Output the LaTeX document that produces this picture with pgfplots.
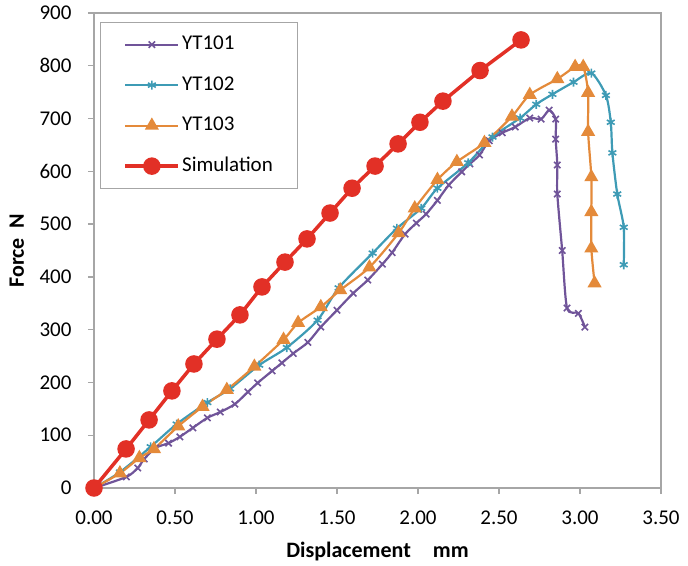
\documentclass[border=0pt]{standalone}
\usepackage{fontspec}
\setmainfont{Carlito}
\usepackage{pgfplots}
\pgfplotsset{compat=1.18}
\definecolor{cPurple}{HTML}{705499}
\definecolor{cCyan}{HTML}{3E9BB5}
\definecolor{cOrange}{HTML}{E48A3A}
\definecolor{cRed}{HTML}{E23026}
\definecolor{cAxis}{HTML}{A6A6A6}
\begin{document}
\begin{tikzpicture}
\begin{axis}[
  scale only axis, width=567pt, height=475pt,
  xmin=0, xmax=3.5, ymin=0, ymax=900,
  xtick={0,0.5,1,1.5,2,2.5,3,3.5},
  ytick={0,100,200,300,400,500,600,700,800,900},
  /pgf/number format/assume math mode=true,
  x tick label style={/pgf/number format/.cd, fixed, fixed zerofill, precision=2, /tikz/.cd, yshift=-13pt},
  y tick label style={/pgf/number format/.cd, fixed, precision=0, /tikz/.cd, xshift=-13pt},
  tick align=outside, xtick pos=left, ytick pos=left,
  major tick length=6pt,
  tick style={cAxis, line width=1.3pt},
  axis line style={cAxis, line width=1.5pt},
  ticklabel style={font=\fontsize{21}{21}\selectfont, text=black},
  xlabel={Displacement\quad mm}, ylabel={Force\ \ N},
  label style={font=\bfseries\fontsize{22}{22}\selectfont},
  xlabel style={at={(axis description cs:0.5,-0.133)}, anchor=center},
  ylabel style={at={(axis description cs:-0.136,0.5)}, anchor=center},
  legend style={at={(axis description cs:0.0106,0.981)}, anchor=north west,
    draw=cAxis, line width=1.2pt, font=\fontsize{21}{24}\selectfont,
    inner xsep=23pt, inner ysep=11pt, row sep=18.5pt, column sep=0pt,
    nodes={inner sep=2pt, text height=14pt, text depth=4pt}},
  legend cell align=left,
  legend image code/.code={\draw[#1, mark repeat=2, mark phase=2] plot coordinates {(0pt,0pt) (26.5pt,0pt) (53pt,0pt)};},
]
\coordinate (O) at (rel axis cs:0,0);
\addplot[cPurple, line width=2.2pt, smooth, tension=0.45, mark=x, mark size=4.5pt, mark options={solid, line width=1.6pt}] coordinates {
(0,0) (0.20,21) (0.27,38) (0.31,55) (0.38,76) (0.46,85) (0.53,97) (0.61,114) (0.70,133) (0.78,144) (0.87,159) (0.95,182) (1.01,199) (1.10,222) (1.16,237) (1.23,255) (1.32,276) (1.40,305) (1.50,337) (1.60,369) (1.69,394) (1.78,424) (1.84,446) (1.92,481) (1.99,502) (2.05,519) (2.12,545) (2.19,574) (2.27,599) (2.32,614) (2.38,631) (2.44,658) (2.52,673) (2.60,684) (2.69,701) (2.76,699) (2.81,716) (2.85,699) (2.85,661) (2.86,612) (2.86,557) (2.89,450) (2.92,341) (2.99,331) (3.03,305)
};
\addlegendentry{YT101}
\addplot[cCyan, line width=2.2pt, smooth, tension=0.45, mark=asterisk, mark size=4.5pt, mark options={solid, line width=1.6pt}] coordinates {
(0,0) (0.16,30) (0.35,78) (0.51,121) (0.70,162) (0.84,188) (1.02,233) (1.19,266) (1.38,318) (1.51,379) (1.72,445) (1.87,492) (2.02,530) (2.12,568) (2.31,616) (2.46,665) (2.63,701) (2.73,727) (2.83,746) (2.96,769) (3.07,786) (3.16,744) (3.19,693) (3.20,635) (3.23,557) (3.27,494) (3.27,423)
};
\addlegendentry{YT102}
\addplot[cOrange, line width=2.2pt, smooth, tension=0.45, mark=triangle*, mark size=6pt, mark options={solid}] coordinates {
(0,0) (0.16,28) (0.28,57) (0.37,74) (0.52,117) (0.67,154) (0.82,186) (0.99,230) (1.17,281) (1.26,313) (1.40,343) (1.52,375) (1.70,418) (1.88,483) (1.98,530) (2.12,584) (2.24,618) (2.41,654) (2.58,704) (2.69,745) (2.86,775) (2.97,798) (3.02,798) (3.05,749) (3.05,675) (3.07,589) (3.07,523) (3.07,454) (3.09,388)
};
\addlegendentry{YT103}
\addplot[cRed, line width=3.5pt, mark=*, mark size=7pt, mark options={solid}] coordinates {
(0,0) (0.198,74) (0.340,129) (0.481,184) (0.617,235) (0.759,282) (0.901,328) (1.037,381) (1.179,428) (1.315,472) (1.457,521) (1.593,568) (1.735,610) (1.877,652) (2.012,693) (2.154,733) (2.383,791) (2.636,849)
};
\addlegendentry{Simulation}
\end{axis}
\pgfresetboundingbox
\path[use as bounding box] ([xshift=-94pt,yshift=-77pt]O) rectangle ++(688pt,565pt);
\end{tikzpicture}
\end{document}
